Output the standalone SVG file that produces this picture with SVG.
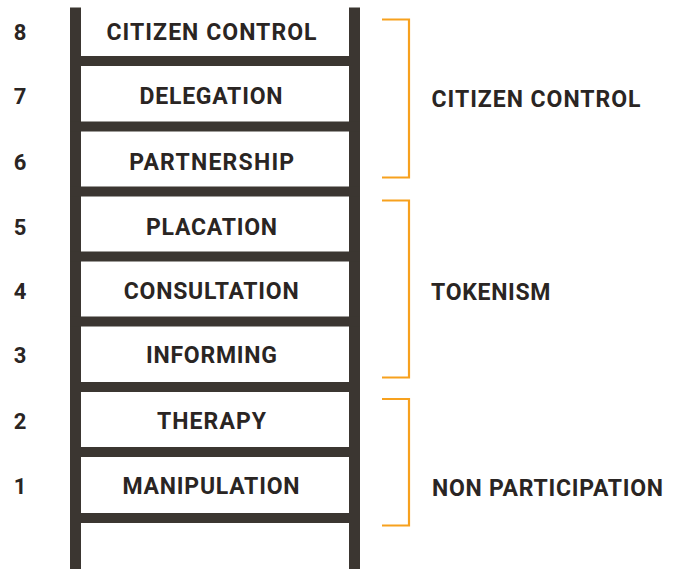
<svg xmlns="http://www.w3.org/2000/svg" width="681" height="569" viewBox="0 0 681 569">
<style>
.rail{fill:#3b3631}
.t{font-family:Roboto,"Liberation Sans",sans-serif;font-weight:700;font-size:23px;fill:#2a2523}
.m{text-anchor:middle}
.n{text-anchor:middle;font-size:22px}
.br{fill:none;stroke:#f7a11e;stroke-width:2.2}
</style>
<rect width="681" height="569" fill="#ffffff"/>
<g id="ladder">
<rect class="rail" x="70" y="7.5" width="11" height="562"/>
<rect class="rail" x="349" y="7.5" width="11" height="562"/>
<rect class="rail" x="70" y="56" width="290" height="10"/>
<rect class="rail" x="70" y="121.5" width="290" height="10"/>
<rect class="rail" x="70" y="186.5" width="290" height="10"/>
<rect class="rail" x="70" y="251.5" width="290" height="10"/>
<rect class="rail" x="70" y="316.5" width="290" height="10"/>
<rect class="rail" x="70" y="382" width="290" height="10"/>
<rect class="rail" x="70" y="447" width="290" height="10"/>
<rect class="rail" x="70" y="513" width="290" height="10"/>
</g>
<g id="rung8"><text class="t n" x="20" y="39.5">8</text><text class="t m" x="211.5" y="39.5" textLength="210" lengthAdjust="spacing">CITIZEN CONTROL</text></g>
<g id="rung7"><text class="t n" x="20" y="104">7</text><text class="t m" x="211" y="104" textLength="143" lengthAdjust="spacing">DELEGATION</text></g>
<g id="rung6"><text class="t n" x="20" y="170">6</text><text class="t m" x="211.7" y="170" textLength="165" lengthAdjust="spacing">PARTNERSHIP</text></g>
<g id="rung5"><text class="t n" x="20" y="235">5</text><text class="t m" x="211.5" y="235" textLength="131" lengthAdjust="spacing">PLACATION</text></g>
<g id="rung4"><text class="t n" x="20" y="299">4</text><text class="t m" x="211.2" y="299" textLength="175" lengthAdjust="spacing">CONSULTATION</text></g>
<g id="rung3"><text class="t n" x="20" y="363">3</text><text class="t m" x="211.5" y="363" textLength="131" lengthAdjust="spacing">INFORMING</text></g>
<g id="rung2"><text class="t n" x="20" y="429">2</text><text class="t m" x="211.5" y="429" textLength="109" lengthAdjust="spacing">THERAPY</text></g>
<g id="rung1"><text class="t n" x="20" y="494">1</text><text class="t m" x="211" y="494" textLength="177" lengthAdjust="spacing">MANIPULATION</text></g>
<g id="group-citizen-control"><path class="br" d="M382 19.5 H409 V177.5 H382"/><text class="t" x="431.5" y="107" textLength="209" lengthAdjust="spacing">CITIZEN CONTROL</text></g>
<g id="group-tokenism"><path class="br" d="M382 200.5 H409 V377.5 H382"/><text class="t" x="431" y="300" textLength="119.5" lengthAdjust="spacing">TOKENISM</text></g>
<g id="group-non-participation"><path class="br" d="M382 399 H409 V525.5 H382"/><text class="t" x="432" y="495.5" textLength="231" lengthAdjust="spacing">NON PARTICIPATION</text></g>
</svg>
